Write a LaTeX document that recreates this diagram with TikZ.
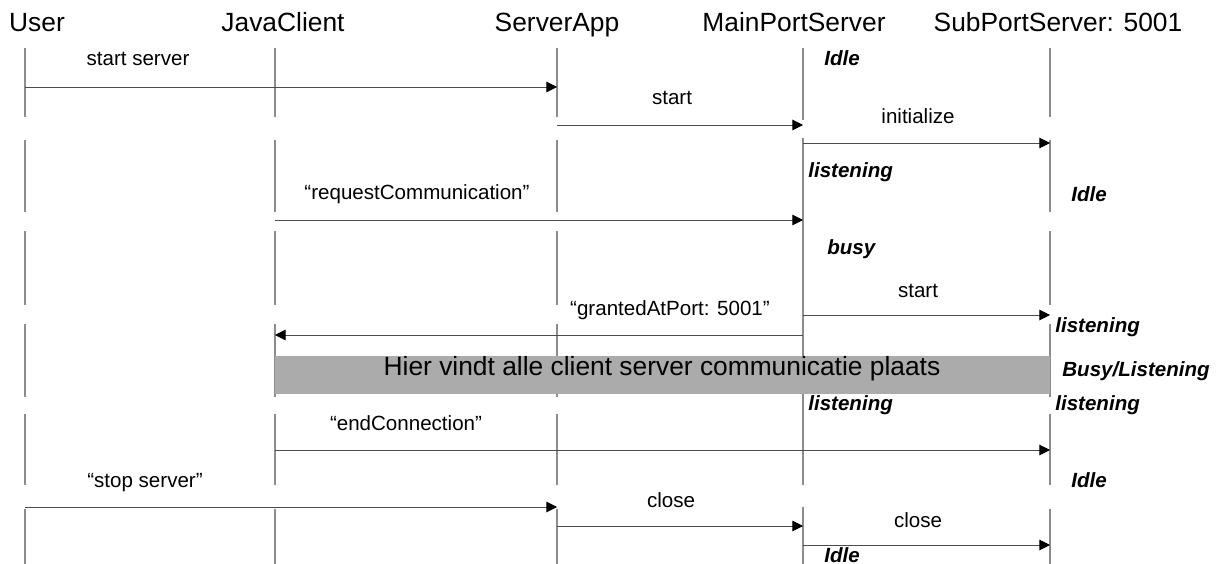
\documentclass[tikz,border=0pt]{standalone}
\usepackage{fontspec}
\setmainfont{Liberation Sans}
\usetikzlibrary{arrows.meta}
\tikzset{
	actor/.style={font=\fontsize{15}{18}\selectfont,anchor=base,inner sep=0pt},
	lifeline/.style={draw=black!45,line width=0.6pt},
	msg/.style={draw=black!70,line width=0.55pt,-{Triangle[length=6pt,width=6pt,color=black]}},
	msgtext/.style={font=\fontsize{11.7}{14}\selectfont,anchor=base,inner sep=0pt},
	state/.style={font=\fontsize{11.7}{14}\selectfont\bfseries\itshape,anchor=base west,inner sep=0pt},
	band/.style={fill=black!33,draw=none,inner sep=0pt},
}
\begin{document}
\begin{tikzpicture}[x=0.02cm,y=-0.02cm]
		\useasboundingbox (0,0) rectangle (1224,564);
		\node[actor] (user) at (37,32) {User};
		\node[actor] (client) at (283,32) {JavaClient};
		\node[actor] (app) at (557,32) {ServerApp};
		\node[actor] (main) at (794,32) {MainPortServer};
		\node[actor] (sub) at (1058,32) {SubPortServer: 5001};

		% lifelines
		\foreach \x in {25,275,557,1050}
			\foreach \a/\b in {48/117,140/212,231/305,324/397,414/485,509/564}
				\draw[lifeline] (\x,\a) -- (\x,\b);
		\foreach \a/\b in {48/120,138/485,507/564}
			\draw[lifeline] (803,\a) -- (803,\b);

		\node[band,minimum width=15.5cm,minimum height=0.78cm] (talk) at (662.5,375) {};
		\node[font=\fontsize{15}{18}\selectfont,anchor=base,inner sep=0pt] (talktext) at (662,375) {Hier vindt alle client server communicatie plaats};

		\coordinate (m1a) at (25,87);   \coordinate (m1b) at (557,87);
		\coordinate (m2a) at (557,125); \coordinate (m2b) at (803,125);
		\coordinate (m3a) at (803,143); \coordinate (m3b) at (1050,143);
		\coordinate (m4a) at (275,220); \coordinate (m4b) at (803,220);
		\coordinate (m5a) at (803,315); \coordinate (m5b) at (1050,315);
		\coordinate (m6a) at (803,335); \coordinate (m6b) at (275,335);
		\coordinate (m7a) at (275,450); \coordinate (m7b) at (1050,450);
		\coordinate (m8a) at (25,507);  \coordinate (m8b) at (557,507);
		\coordinate (m9a) at (557,526); \coordinate (m9b) at (803,526);
		\coordinate (m10a) at (803,545); \coordinate (m10b) at (1050,545);

		\node[msgtext] (m1) at (138,66) {start server};
		\node[msgtext] (m2) at (672,105) {start};
		\node[msgtext] (m3) at (918,124) {initialize};
		\node[msgtext] (m4) at (417,200) {“requestCommunication”};
		\node[msgtext] (m5) at (918,297) {start};
		\node[msgtext] (m6) at (670,316) {“grantedAtPort: 5001”};
		\node[msgtext] (m7) at (406,430) {“endConnection”};
		\node[msgtext] (m8) at (145,487) {“stop server”};
		\node[msgtext] (m9) at (671,507) {close};
		\node[msgtext] (m10) at (918,527) {close};

		\draw (m1a) [msg] -- (m1b);
		\draw (m2a) [msg] -- (m2b);
		\draw (m3a) [msg] -- (m3b);
		\draw (m4a) [msg] -- (m4b);
		\draw (m5a) [msg] -- (m5b);
		\draw (m6a) [msg] -- (m6b);
		\draw (m7a) [msg] -- (m7b);
		\draw (m8a) [msg] -- (m8b);
		\draw (m9a) [msg] -- (m9b);
		\draw (m10a) [msg] -- (m10b);

		% states
		\node[state] (s1) at (824,66) {Idle};
		\node[state] (s2) at (808,178) {listening};
		\node[state] (s3) at (1071,202) {Idle};
		\node[state] (s4) at (827,255) {busy};
		\node[state] (s5) at (1055,333) {listening};
		\node[state] (s6) at (1062,377) {Busy/Listening};
		\node[state] (s7) at (808,410) {listening};
		\node[state] (s8) at (1055,410) {listening};
		\node[state] (s9) at (1071,487) {Idle};
		\node[state] (s10) at (824,562) {Idle};
\end{tikzpicture}
\end{document}
